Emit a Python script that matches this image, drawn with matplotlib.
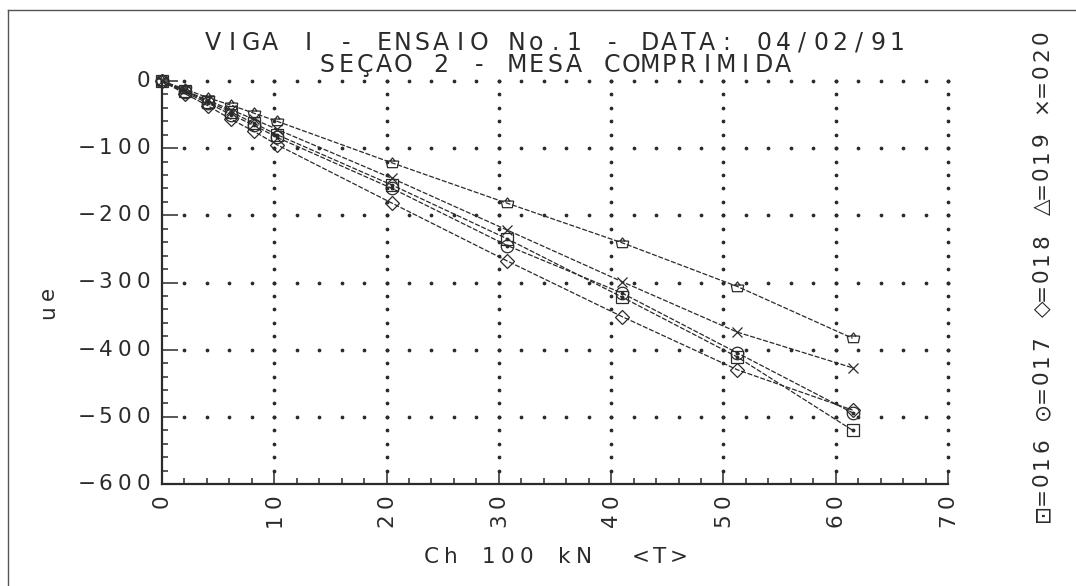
import numpy as np
import matplotlib
matplotlib.use("Agg")
import matplotlib.pyplot as plt
from matplotlib.path import Path
from matplotlib.ticker import MultipleLocator
from matplotlib.lines import Line2D

W, H = 1076, 586

# carga (Ch, x100 kN) e deformacoes (ue) dos extensometros da secao 2
carga = [0, 2.05, 4.1, 6.15, 8.2, 10.25, 20.5, 30.75, 41.0, 51.25, 61.5]
ext_016 = [0, -15, -31, -46, -63, -80, -155, -235, -322, -411, -520]
ext_017 = [0, -17, -33, -50, -66, -84, -160, -245, -316, -405, -494]
ext_018 = [0, -19, -37, -57, -75, -95, -182, -268, -351, -430, -490]
ext_019 = [0, -12, -25, -36, -48, -60, -122, -182, -241, -306, -383]
ext_020 = [0, -14, -29, -43, -57, -72, -145, -222, -299, -374, -427]

x_ticks = [0, 10, 20, 30, 40, 50, 60, 70]
y_ticks = [0, -100, -200, -300, -400, -500, -600]

titulo1 = "VIGA I - ENSAIO No.1 - DATA: 04/02/91"
titulo2 = "SEÇAO 2 - MESA COMPRIMIDA"
rotulo_x = "Ch 100 kN  <T>"
rotulo_y = "ue"
legenda = "⊡=016 ⊙=017 ◇=018 △=019 ×=020"

TINTA = "#2b2b2b"
FONTE = ["DejaVu Sans", "DejaVu Sans Mono"]

fig = plt.figure(figsize=(W / 100, H / 100), dpi=100)
fig.patch.set_facecolor("white")

# area do grafico em pixels: x 162..948, y 81..484
ax = fig.add_axes([162 / W, 1 - 484 / H, (948 - 162) / W, (484 - 81) / H])
ax.set_xlim(0, 70)
ax.set_ylim(-600, 0)
ax.set_facecolor("none")
for s in ["top", "right"]:
    ax.spines[s].set_visible(False)
for s in ["left", "bottom"]:
    ax.spines[s].set_linewidth(1.6)
    ax.spines[s].set_color(TINTA)

ax.set_xticks(x_ticks)
ax.set_yticks(y_ticks)
ax.xaxis.set_minor_locator(MultipleLocator(2))
ax.yaxis.set_minor_locator(MultipleLocator(20))
ax.tick_params(axis="both", which="both", direction="in", labelbottom=False,
               labelleft=False, color=TINTA, width=1.1)
ax.tick_params(axis="x", which="major", length=8.5)
ax.tick_params(axis="y", which="major", length=11.5)
ax.tick_params(axis="both", which="minor", length=4.3)

# grade pontilhada do plotter (um ponto a cada divisao menor)
for yv in y_ticks[:-1]:
    xs = np.arange(2, 71, 2)
    ax.plot(xs, np.full(len(xs), yv), ls="none", marker="o", ms=1.7,
            color=TINTA, clip_on=False)
for xv in x_ticks[1:]:
    ys = np.arange(-580, 1, 20)
    ax.plot(np.full(len(ys), xv), ys, ls="none", marker="o", ms=1.7,
            color=TINTA, clip_on=False)

# marcador do extensometro 019
cup = Path([(-0.35, 0.35), (0, 0.8), (0.35, 0.35),
            (-0.9, 0.35), (0.9, 0.35),
            (-0.9, 0.35), (-0.7, -0.6), (0.7, -0.6), (0.9, 0.35)],
           [Path.MOVETO, Path.LINETO, Path.LINETO,
            Path.MOVETO, Path.LINETO,
            Path.MOVETO, Path.LINETO, Path.LINETO, Path.LINETO])

series = [
    (ext_016, "s", 9.0, True),
    (ext_017, "o", 9.0, True),
    (ext_018, "D", 7.5, False),
    (ext_019, cup, 9.0, False),
    (ext_020, "x", 7.5, False),
]
for ys, mk, ms, ponto in series:
    ax.plot(carga, ys, color=TINTA, lw=0.9, ls=(0, (4, 1.4)), marker=mk,
            ms=ms, mfc="none", mec=TINTA, mew=0.9, clip_on=False)
    if ponto:
        ax.plot(carga, ys, ls="none", marker="o", ms=1.8, color=TINTA,
                clip_on=False)


def plotter_text(x, y, s, size=15.5, step=19, rot=0, anchor="left"):
    # texto do plotter: caracteres com passo fixo, em pixels a partir do topo
    n = len(s)
    off = {"left": 0, "center": -n * step / 2, "right": -n * step}[anchor]
    for i, ch in enumerate(s):
        if ch == " ":
            continue
        d = off + (i + 0.5) * step
        px, py = (x + d, y) if rot == 0 else (x, y - d)
        fig.text(px / W, 1 - py / H, ch, rotation=rot, ha="center",
                 va="center", fontsize=size, family=FONTE, color=TINTA)


def px_x(v):
    return ax.transData.transform((v, 0))[0]


def px_y(v):
    return H - ax.transData.transform((0, v))[1]


plotter_text(555, 43, titulo1, size=17, anchor="center")
plotter_text(555, 65, titulo2, size=17, anchor="center")

for v in y_ticks:
    plotter_text(153, px_y(v), str(v).replace("-", "−"), anchor="right")
for v in x_ticks:
    lab = str(v)
    plotter_text(px_x(v), 492 + len(lab) * 19, lab, rot=90)

plotter_text(555, 557, rotulo_x, anchor="center")
plotter_text(48, 303, rotulo_y, rot=90, anchor="center")
plotter_text(1042, 275, legenda, step=17, rot=90, anchor="center")

# moldura da folha digitalizada
fig.add_artist(Line2D([8 / W, 1], [1 - 10 / H, 1 - 10 / H], color="#555555",
                      lw=1.0, transform=fig.transFigure))
fig.add_artist(Line2D([8 / W, 8 / W], [0, 1 - 10 / H], color="#555555",
                      lw=1.0, transform=fig.transFigure))

fig.savefig("out.png", dpi=100, facecolor="white")
